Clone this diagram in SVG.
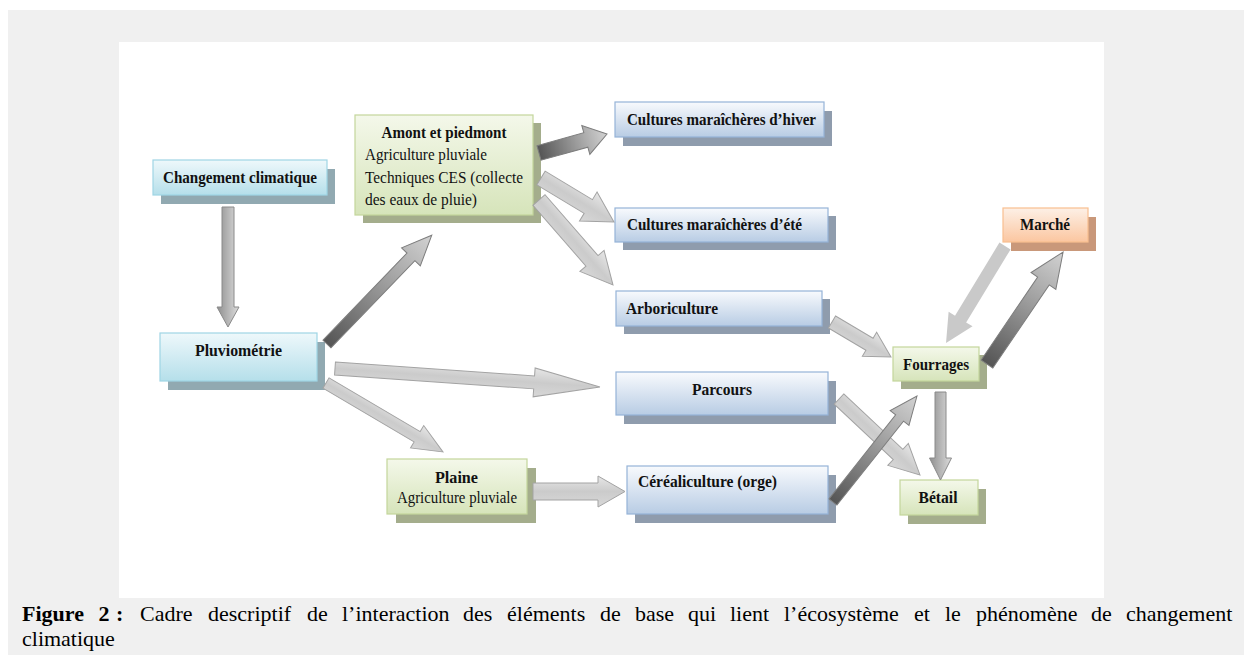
<svg xmlns="http://www.w3.org/2000/svg" width="1244" height="655" viewBox="0 0 1244 655">
<defs>
<linearGradient id="gCyan" x1="0" y1="0" x2="0" y2="1"><stop offset="0" stop-color="#eef8fb"/><stop offset="1" stop-color="#b5dfea"/></linearGradient>
<linearGradient id="gGreen" x1="0" y1="0" x2="0" y2="1"><stop offset="0" stop-color="#f4f8ea"/><stop offset="1" stop-color="#d6e4ba"/></linearGradient>
<linearGradient id="gBlue" x1="0" y1="0" x2="0" y2="1"><stop offset="0" stop-color="#f8fafd"/><stop offset="1" stop-color="#b8cce4"/></linearGradient>
<linearGradient id="gOrange" x1="0" y1="0" x2="0" y2="1"><stop offset="0" stop-color="#fdf0e6"/><stop offset="1" stop-color="#fbc6a0"/></linearGradient>
<linearGradient id="aLight" x1="0" y1="0" x2="0" y2="1"><stop offset="0" stop-color="#e6e6e6"/><stop offset="0.5" stop-color="#cbcbcb"/><stop offset="1" stop-color="#d8d8d8"/></linearGradient>
<linearGradient id="aDark" x1="0" y1="0" x2="1" y2="0"><stop offset="0" stop-color="#555555"/><stop offset="0.55" stop-color="#9c9c9c"/><stop offset="1" stop-color="#d2d2d2"/></linearGradient>
<linearGradient id="aMid" x1="0" y1="0" x2="0" y2="1"><stop offset="0" stop-color="#dcdcdc"/><stop offset="1" stop-color="#8f8f8f"/></linearGradient>
</defs>
<style>
.sc{fill:#91a9b1}.sg{fill:#a4ad8c}.sb{fill:#8f9cad}.so{fill:#c9987a}
.bc{fill:url(#gCyan);stroke:#9fd5e4;stroke-width:1.2}
.bg{fill:url(#gGreen);stroke:#c3d69b;stroke-width:1.2}
.bb{fill:url(#gBlue);stroke:#95b3d7;stroke-width:1.2}
.bo{fill:url(#gOrange);stroke:#f9bf8f;stroke-width:1.2}
.t{font-family:"Liberation Serif",serif;font-size:16px;fill:#111}
.tb{font-family:"Liberation Serif",serif;font-size:16px;font-weight:bold;fill:#111}
.m{text-anchor:middle}
.al{fill:url(#aLight);stroke:#a3a3a3;stroke-width:1}
.ad{fill:url(#aDark);stroke:#7d7d7d;stroke-width:1}
.am{fill:url(#aMid);stroke:#8a8a8a;stroke-width:1}
.af{fill:#c9c9c9;stroke:none}
.cap{font-family:"Liberation Serif",serif;font-size:22px;fill:#000}
</style>
<rect x="0" y="0" width="1244" height="655" fill="#ffffff"/>
<rect x="8" y="10" width="1236" height="645" fill="#f0f0f0"/>
<rect x="119" y="42" width="985" height="556" fill="#ffffff"/>

<g id="n-changement"><rect class="sc" x="161" y="169" width="174" height="35"/><rect class="bc" x="153" y="160" width="174" height="35"/><text class="tb m" x="240" y="183" textLength="154" lengthAdjust="spacingAndGlyphs">Changement climatique</text></g>
<g id="n-pluviometrie"><rect class="sc" x="168" y="342" width="157" height="48"/><rect class="bc" x="160" y="333" width="157" height="48"/><text class="tb m" x="238.5" y="356" textLength="87" lengthAdjust="spacingAndGlyphs">Pluviométrie</text></g>
<g id="n-amont"><rect class="sg" x="363" y="123" width="178" height="100"/><rect class="bg" x="355" y="115" width="178" height="100"/><text class="tb m" x="444" y="138" textLength="125" lengthAdjust="spacingAndGlyphs">Amont et piedmont</text><text class="t" x="365" y="160" textLength="122" lengthAdjust="spacingAndGlyphs">Agriculture pluviale</text><text class="t" x="365" y="183" textLength="158" lengthAdjust="spacingAndGlyphs">Techniques CES (collecte</text><text class="t" x="365" y="205" textLength="112" lengthAdjust="spacingAndGlyphs">des eaux de pluie)</text></g>
<g id="n-hiver"><rect class="sb" x="623" y="111" width="209" height="35"/><rect class="bb" x="615" y="102" width="209" height="35"/><text class="tb" x="627" y="125" textLength="189" lengthAdjust="spacingAndGlyphs">Cultures maraîchères d’hiver</text></g>
<g id="n-ete"><rect class="sb" x="623" y="216" width="213" height="34"/><rect class="bb" x="615" y="208" width="213" height="34"/><text class="tb" x="627" y="230" textLength="175" lengthAdjust="spacingAndGlyphs">Cultures maraîchères d’été</text></g>
<g id="n-arbo"><rect class="sb" x="624" y="299" width="206" height="35"/><rect class="bb" x="616" y="291" width="206" height="35"/><text class="tb" x="626" y="314" textLength="92" lengthAdjust="spacingAndGlyphs">Arboriculture</text></g>
<g id="n-parcours"><rect class="sb" x="624" y="381" width="212" height="43"/><rect class="bb" x="616" y="372" width="212" height="43"/><text class="tb m" x="722" y="395" textLength="60" lengthAdjust="spacingAndGlyphs">Parcours</text></g>
<g id="n-plaine"><rect class="sg" x="396" y="468" width="140" height="55"/><rect class="bg" x="387" y="459" width="140" height="55"/><text class="tb m" x="456.5" y="483" textLength="43" lengthAdjust="spacingAndGlyphs">Plaine</text><text class="t m" x="457" y="503" textLength="120" lengthAdjust="spacingAndGlyphs">Agriculture pluviale</text></g>
<g id="n-cereal"><rect class="sb" x="635" y="475" width="201" height="48"/><rect class="bb" x="627" y="466" width="201" height="48"/><text class="tb" x="638" y="487" textLength="139" lengthAdjust="spacingAndGlyphs">Céréaliculture (orge)</text></g>
<g id="n-marche"><rect class="so" x="1011" y="217" width="85" height="34"/><rect class="bo" x="1003" y="208" width="85" height="34"/><text class="tb m" x="1045" y="230" textLength="50" lengthAdjust="spacingAndGlyphs">Marché</text></g>
<g id="n-fourrages"><rect class="sg" x="901" y="355" width="86" height="34"/><rect class="bg" x="893" y="347" width="86" height="34"/><text class="tb m" x="936" y="370" textLength="66" lengthAdjust="spacingAndGlyphs">Fourrages</text></g>
<g id="n-betail"><rect class="sg" x="908" y="489" width="78" height="35"/><rect class="bg" x="900" y="480" width="78" height="35"/><text class="tb m" x="938" y="503" textLength="39" lengthAdjust="spacingAndGlyphs">Bétail</text></g>

<g id="connectors">
<path class="am" transform="translate(228,207) rotate(90)" d="M0,-6 L100,-6 L100,-11 L120,0 L100,11 L100,6 L0,6Z"/>
<path class="ad" transform="translate(327,344) rotate(-46.07)" d="M0,-5.5 L121,-5.5 L121,-13 L151,0 L121,13 L121,5.5 L0,5.5Z"/>
<path class="al" transform="translate(335,368.5) rotate(3.99)" d="M0,-6.5 L199.6,-6.5 L199.6,-14.5 L265.6,0 L199.6,14.5 L199.6,6.5 L0,6.5Z"/>
<path class="al" transform="translate(326,383) rotate(30.53)" d="M0,-6 L105.8,-6 L105.8,-13 L135.8,0 L105.8,13 L105.8,6 L0,6Z"/>
<path class="ad" transform="translate(539,153) rotate(-15.6)" d="M0,-7.5 L48.6,-7.5 L48.6,-15 L70.6,0 L48.6,15 L48.6,7.5 L0,7.5Z"/>
<path class="al" transform="translate(541,178) rotate(31.08)" d="M0,-8 L55.2,-8 L55.2,-17 L85.2,0 L55.2,17 L55.2,8 L0,8Z"/>
<path class="al" transform="translate(539,200) rotate(48.96)" d="M0,-8 L80.7,-8 L80.7,-16 L112.7,0 L80.7,16 L80.7,8 L0,8Z"/>
<path class="al" transform="translate(533,491.5)" d="M0,-8.5 L65,-8.5 L65,-15.5 L92,0 L65,15.5 L65,8.5 L0,8.5Z"/>
<path class="al" transform="translate(832,322) rotate(30.68)" d="M0,-7 L43.6,-7 L43.6,-14 L68.6,0 L43.6,14 L43.6,7 L0,7Z"/>
<path class="al" transform="translate(839,399) rotate(43.17)" d="M0,-7 L81,-7 L81,-15 L111,0 L81,15 L81,7 L0,7Z"/>
<path class="ad" transform="translate(833,502) rotate(-51.6)" d="M0,-5 L107.2,-5 L107.2,-12 L135.2,0 L107.2,12 L107.2,5 L0,5Z"/>
<path class="am" transform="translate(940.5,392) rotate(90)" d="M0,-5.5 L66,-5.5 L66,-11 L88,0 L66,11 L66,5.5 L0,5.5Z"/>
<path class="af" transform="translate(1005,246) rotate(121.3)" d="M0,-6.5 L85.5,-6.5 L85.5,-14 L113.5,0 L85.5,14 L85.5,6.5 L0,6.5Z"/>
<path class="ad" transform="translate(987,364) rotate(-55.8)" d="M0,-7 L100.4,-7 L100.4,-15 L135.4,0 L100.4,15 L100.4,7 L0,7Z"/>
</g>

<g id="caption">
<text class="cap" y="621"><tspan x="22" font-weight="bold">Figure</tspan><tspan x="98.5" font-weight="bold">2</tspan><tspan x="116" font-weight="bold">:</tspan><tspan x="140">Cadre</tspan><tspan x="208">descriptif</tspan><tspan x="307">de</tspan><tspan x="342">l’interaction</tspan><tspan x="463">des</tspan><tspan x="507">éléments</tspan><tspan x="600">de</tspan><tspan x="635">base</tspan><tspan x="688">qui</tspan><tspan x="730">lient</tspan><tspan x="784">l’écosystème</tspan><tspan x="914">et</tspan><tspan x="945">le</tspan><tspan x="976">phénomène</tspan><tspan x="1091">de</tspan><tspan x="1126">changement</tspan></text>
<text class="cap" x="22" y="646">climatique</text>
</g>
</svg>
